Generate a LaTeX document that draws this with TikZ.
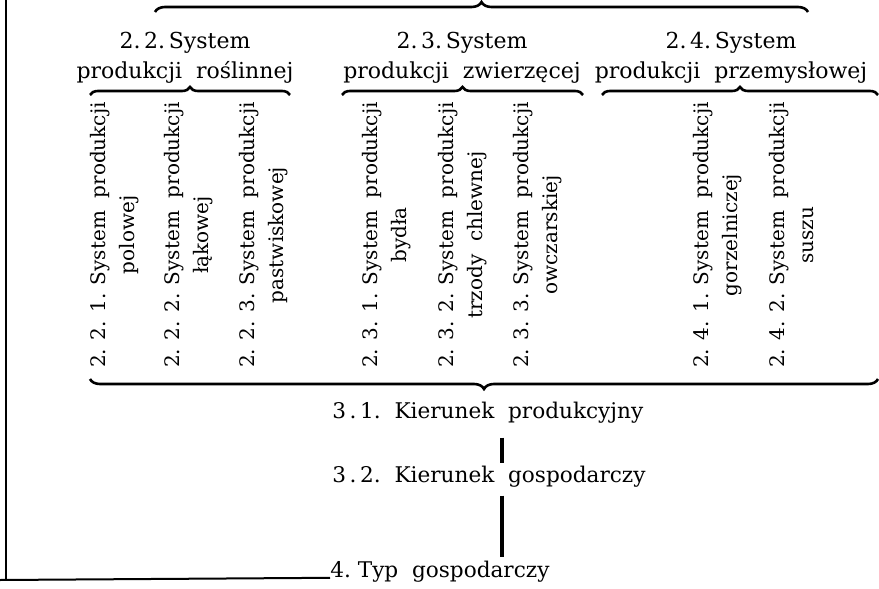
\documentclass[tikz,border=0pt]{standalone}
\usepackage{fontspec}
\setmainfont{DejaVu Serif}
\usetikzlibrary{decorations.pathreplacing}
\tikzset{
  head/.style={align=center, inner sep=0pt, font=\fontsize{11}{15}\selectfont},
  column/.style={align=center, inner sep=0pt, rotate=90, font=\fontsize{10}{14.5}\selectfont},
  level/.style={anchor=west, inner sep=0pt, font=\fontsize{10.8}{12}\selectfont},
  curly/.style={decorate, decoration={brace, amplitude=#1}, line width=1.3pt},
  curly/.default=4pt,
  bar/.style={line width=1.6pt}
}
\begin{document}
\begin{tikzpicture}[x=0.5pt, y=-0.5pt]
  \useasboundingbox (0,0) rectangle (879,589);

		% frame on the left and at the bottom
		\coordinate (top) at (6,0);
		\coordinate (corner) at (6,580);
		\coordinate (foot) at (0,580);

		% headings of the systems
		\node[head] (h22) at (185,58) {2.\,2.\,System\\produkcji\ \ roślinnej};
		\node[head] (h23) at (462,58) {2.\,3.\,System\\produkcji\ \ zwierzęcej};
		\node[head] (h24) at (731,58) {2.\,4.\,System\\produkcji\ \ przemysłowej};

		\draw[curly=5pt] (155,12) -- (808,12);
		\draw[curly] (90,95) -- (290,95);
		\draw[curly] (342,95) -- (583,95);
		\draw[curly] (602,95) -- (878,95);

		% the single systems, written upwards
		\node[column] (s221) at (115,235) {2. 2. 1. System\ \ produkcji\\polowej};
		\node[column] (s222) at (189,235) {2. 2. 2. System\ \ produkcji\\łąkowej};
		\node[column] (s223) at (264,235) {2. 2. 3. System\ \ produkcji\\pastwiskowej};
		\node[column] (s231) at (387,235) {2. 3. 1. System\ \ produkcji\\bydła};
		\node[column] (s232) at (463,235) {2. 3. 2. System\ \ produkcji\\trzody\ \ chlewnej};
		\node[column] (s233) at (538,235) {2. 3. 3. System\ \ produkcji\\owczarskiej};
		\node[column] (s241) at (718,235) {2. 4. 1. System\ \ produkcji\\gorzelniczej};
		\node[column] (s242) at (792,235) {2. 4. 2. System\ \ produkcji\\suszu};

		\draw[curly=5pt, decoration={mirror}] (90,379) -- (878,379);

		% directions and type
		\node[level] (k31) at (332,413) {3\,.\,1.\ \ Kierunek\ \ produkcyjny};
		\node[level] (k32) at (332,477) {3\,.\,2.\ \ Kierunek\ \ gospodarczy};
		\node[level] (typ) at (330,572) {4.\ Typ\ \ gospodarczy};
		\coordinate (barx) at (502,0);

		\draw[bar, shorten <=6.8pt, shorten >=1.5pt] (k31.south -| barx) -- (k32.north -| barx);
		\draw[bar, shorten <=3.8pt, shorten >=2pt] (k32.south -| barx) -- (typ.north -| barx);
		\draw[line width=1pt] (top) -- (corner);
		\draw[line width=1pt] (foot) -- (typ.base west);
	\end{tikzpicture}
\end{document}
